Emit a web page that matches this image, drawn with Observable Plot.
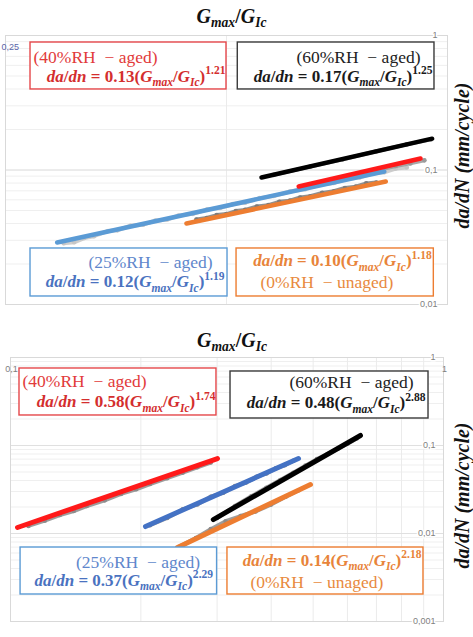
<!DOCTYPE html>
<html>
<head>
<meta charset="utf-8">
<script src="https://cdn.jsdelivr.net/npm/d3@7"></script>
<script src="https://cdn.jsdelivr.net/npm/@observablehq/plot@0.6"></script>
<style>
  html, body { margin: 0; padding: 0; background: #fff; }
  #root { width: 473px; }
  #root svg { display: block; }
  #root svg text { white-space: pre; }
</style>
</head>
<body>
<div id="root"></div>
<script>
// ---------------- data ----------------
const titleText = "G_{max}/G_{Ic}";
const yLabelText = "da/dN (mm/cycle)";
const seriesNames = ["40%RH - aged", "60%RH - aged", "25%RH - aged", "0%RH - unaged"];
const headings = ["(40%RH  \u2212 aged)", "(60%RH  \u2212 aged)", "(25%RH  \u2212 aged)", "(0%RH  \u2212 unaged)"];

// panel A (top)
const aXTicks = [0.25];
const aXTickLabels = ["0,25"];
const aYTicks = [1, 0.1, 0.01];
const aYTickLabels = ["1", "0,1", "0,01"];
const aFormulas = [
  "da/dn = 0.13(G_{max}/G_{Ic})^{1.21}",
  "da/dn = 0.17(G_{max}/G_{Ic})^{1.25}",
  "da/dn = 0.12(G_{max}/G_{Ic})^{1.19}",
  "da/dn = 0.10(G_{max}/G_{Ic})^{1.18}"
];
// fitted power-law lines: start / end points (Gmax/GIc, da/dN)
const aFitG0 = [0.627, 0.558, 0.294, 0.441];
const aFitG1 = [0.919, 0.953, 0.820, 0.824];
const aFitDa0 = [0.0754, 0.0879, 0.0289, 0.0400];
const aFitDa1 = [0.1218, 0.1710, 0.0975, 0.0821];
// measured data (grey)
const aData40G = [0.65, 0.70, 0.75, 0.80, 0.85, 0.89, 0.93];
const aData40Da = [0.0770, 0.0850, 0.0915, 0.0995, 0.1070, 0.1120, 0.1180];
const aData60G = [0.58, 0.65, 0.72, 0.80, 0.88, 0.95];
const aData60Da = [0.0920, 0.1060, 0.1200, 0.1380, 0.1550, 0.1690];
const aData25G = [0.300, 0.310, 0.320, 0.330, 0.345, 0.355, 0.370, 0.385, 0.400, 0.415, 0.430, 0.450, 0.470, 0.490, 0.510, 0.530, 0.555, 0.580, 0.610, 0.640, 0.670, 0.700, 0.730, 0.760, 0.790, 0.820, 0.850, 0.880];
const aData25Da = [0.0285, 0.0290, 0.0312, 0.0322, 0.0352, 0.0356, 0.0385, 0.0392, 0.0420, 0.0428, 0.0458, 0.0472, 0.0508, 0.0522, 0.0558, 0.0572, 0.0618, 0.0640, 0.0692, 0.0720, 0.0775, 0.0800, 0.0858, 0.0882, 0.0940, 0.0962, 0.1025, 0.1045];
const aData0G = [0.455, 0.470, 0.485, 0.500, 0.515, 0.530, 0.550, 0.570, 0.590, 0.610, 0.630, 0.650, 0.675, 0.700, 0.725, 0.750, 0.775, 0.800];
const aData0Da = [0.0428, 0.0440, 0.0462, 0.0470, 0.0495, 0.0505, 0.0535, 0.0548, 0.0580, 0.0592, 0.0625, 0.0638, 0.0676, 0.0695, 0.0735, 0.0752, 0.0795, 0.0808];

// panel B (bottom)
const bXTicks = [0.1, 1];
const bXTickLabels = ["0,1", "1"];
const bYTicks = [1, 0.1, 0.01, 0.001];
const bYTickLabels = ["1", "0,1", "0,01", "0,001"];
const bFormulas = [
  "da/dn = 0.58(G_{max}/G_{Ic})^{1.74}",
  "da/dn = 0.48(G_{max}/G_{Ic})^{2.88}",
  "da/dn = 0.37(G_{max}/G_{Ic})^{2.29}",
  "da/dn = 0.14(G_{max}/G_{Ic})^{2.18}"
];
const bFitG0 = [0.1038, 0.294, 0.205, 0.243];
const bFitG1 = [0.3006, 0.643, 0.4625, 0.493];
const bFitDa0 = [0.0117, 0.0144, 0.0120, 0.00693];
const bFitDa1 = [0.0711, 0.1300, 0.0711, 0.0360];
const bData40G = [0.11, 0.12, 0.13, 0.14, 0.15, 0.165, 0.18, 0.195, 0.21, 0.23, 0.25, 0.27, 0.29];
const bData40Da = [0.0122, 0.0140, 0.0162, 0.0180, 0.0205, 0.0238, 0.0282, 0.0318, 0.0365, 0.0425, 0.0492, 0.0565, 0.0640];
const bData60G = [0.30, 0.33, 0.36, 0.39, 0.42, 0.45, 0.48, 0.51, 0.54, 0.57, 0.60, 0.63];
const bData60Da = [0.0150, 0.0205, 0.0265, 0.0330, 0.0405, 0.0490, 0.0590, 0.0700, 0.0800, 0.0920, 0.1050, 0.1200];
const bData25G = [0.21, 0.23, 0.25, 0.27, 0.29, 0.31, 0.33, 0.35, 0.37, 0.39, 0.41, 0.43, 0.45];
const bData25Da = [0.0124, 0.0150, 0.0188, 0.0214, 0.0262, 0.0290, 0.0345, 0.0380, 0.0440, 0.0482, 0.0550, 0.0598, 0.0670];
const bData0G = [0.247, 0.268, 0.290, 0.314, 0.340, 0.368, 0.399, 0.432, 0.463];
const bData0Da = [0.0072, 0.0089, 0.0112, 0.0138, 0.0158, 0.0178, 0.0212, 0.0262, 0.0310];

// ---------------- layout / style ----------------
const SERIF = "'Liberation Serif', 'Times New Roman', serif";
const SANS = "'Liberation Sans', Arial, sans-serif";
const boxColors = ["#e5474a", "#3a3a3a", "#5b9bd5", "#ed7d31"];
const headColors = ["#e23b3b", "#222222", "#5f87cc", "#e88a40"];
const formulaColors = ["#d42e2e", "#1a1a1a", "#4a72c0", "#e8843a"];

// annotation box placement (data space) and text offsets (px)
const aBoxes = [
  {x1: 0.2704, x2: 0.500, yTop: 0.887, yBot: 0.397, head: ["start", 3, 20], form: ["end", -1, 39]},
  {x1: 0.518, x2: 0.960, yTop: 0.887, yBot: 0.397, head: ["end", -14, 20], form: ["end", -2, 39]},
  {x1: 0.2704, x2: 0.5016, yTop: 0.02609, yBot: 0.01147, head: ["end", -15, 20], form: ["end", -3, 39]},
  {x1: 0.516, x2: 0.958, yTop: 0.02609, yBot: 0.01147, head: ["start", 24, 40], form: ["end", -2, 18]}
];
const bBoxes = [
  {x1: 0.1049, x2: 0.2990, yTop: 0.750, yBot: 0.2193, head: ["start", 3, 19], form: ["end", -1, 39]},
  {x1: 0.3222, x2: 0.9234, yTop: 0.6934, yBot: 0.2027, head: ["end", -15, 17], form: ["end", -3, 37]},
  {x1: 0.1055, x2: 0.300, yTop: 0.00693, yBot: 0.002027, head: ["end", -17, 20], form: ["end", -4, 38]},
  {x1: 0.317, x2: 0.899, yTop: 0.00693, yBot: 0.002027, head: ["start", 23, 40], form: ["end", -2, 18]}
];

function panel(p) {
  const order = [2, 3, 0, 1];
  const marks = [];
  marks.push(Plot.gridY(d3.scaleLog().domain(p.yDomain).ticks(), {stroke: "#efefef", strokeOpacity: 1}));
  marks.push(Plot.gridX(p.xGrid, {stroke: "#ebebeb", strokeOpacity: 1}));
  marks.push(Plot.gridY(p.yTicks, {stroke: "#e0e0e0", strokeOpacity: 1}));
  marks.push(Plot.frame({stroke: "#d9d9d9"}));
  order.forEach(i => {
    const rows = p.dataG[i].map((g, j) => ({g, da: p.dataDa[i][j]}));
    marks.push(Plot.line(rows, {x: "g", y: "da", stroke: p.grayColors[i], strokeWidth: 4, strokeOpacity: 0.85}));
    marks.push(Plot.dot(rows, {x: "g", y: "da", r: 2.3, fill: p.grayColors[i]}));
  });
  order.forEach(i => {
    const rows = [{g: p.fitG0[i], da: p.fitDa0[i]}, {g: p.fitG1[i], da: p.fitDa1[i]}];
    marks.push(Plot.line(rows, {x: "g", y: "da", stroke: p.lineColors[i], strokeWidth: p.lineWidth, strokeLinecap: "round"}));
  });
  p.boxes.forEach((b, i) => {
    marks.push(Plot.rect([b], {x1: "x1", x2: "x2", y1: "yBot", y2: "yTop", fill: "white", stroke: boxColors[i], strokeWidth: 1.4}));
    const [ha, hdx, hdy] = b.head;
    marks.push(Plot.text([headings[i]], {
      x: () => (ha === "start" ? b.x1 : b.x2), y: () => b.yTop, text: d => d,
      textAnchor: ha, lineAnchor: "bottom", dx: hdx, dy: hdy,
      fontFamily: SERIF, fontSize: 17.5, fill: headColors[i]
    }));
    const [fa, fdx, fdy] = b.form;
    marks.push(Plot.text([p.formulas[i]], {
      x: () => (fa === "start" ? b.x1 : b.x2), y: () => b.yTop, text: d => d,
      textAnchor: fa, lineAnchor: "bottom", dx: fdx, dy: fdy,
      fontFamily: SERIF, fontSize: 17, fontWeight: "bold", fill: formulaColors[i]
    }));
  });
  marks.push(Plot.text(p.yTicks, {
    y: d => d, text: (d, i) => p.yTickLabels[i], frameAnchor: "right", textAnchor: "end",
    dx: p.yTickDx, fontSize: 9, fontFamily: SANS, fill: "#7f7f7f", stroke: "white", strokeWidth: 3, paintOrder: "stroke"
  }));
  marks.push(Plot.text(p.xTicks, {
    x: d => d, text: (d, i) => p.xTickLabels[i], frameAnchor: "top", lineAnchor: "middle",
    textAnchor: p.xTickAnchor, dx: p.xTickDx, dy: 12, fontSize: 9, fontFamily: SANS, fill: p.xTickColor
  }));
  marks.push(Plot.text([titleText], {
    frameAnchor: "top", lineAnchor: "bottom", textAnchor: "middle", dx: p.titleDx, dy: p.titleDy, text: d => d,
    fontFamily: SERIF, fontSize: 20, fontWeight: "bold", fill: "#111"
  }));
  marks.push(Plot.text([yLabelText], {
    frameAnchor: "right", textAnchor: "middle", lineAnchor: "middle", y: () => p.yLabelAt, rotate: -90, dx: p.yLabelDx, text: d => d,
    fontFamily: SERIF, fontSize: 20, fontWeight: "bold", fontStyle: "italic", fill: "#111"
  }));
  return Plot.plot({
    width: 473, height: p.height,
    marginTop: p.margin[0], marginRight: p.margin[1], marginBottom: p.margin[2], marginLeft: p.margin[3],
    x: {type: "log", domain: p.xDomain, axis: null},
    y: {type: "log", domain: p.yDomain, axis: null},
    style: {fontFamily: SANS, background: "white"},
    marks
  });
}

function richify(svg) {
  const NS = "http://www.w3.org/2000/svg";
  d3.select(svg).selectAll("text").each(function () {
    const el = this;
    const s = el.textContent;
    if (!/[_^]\{/.test(s)) return;
    const fs = parseFloat(getComputedStyle(el).fontSize) || 14;
    const tokens = [];
    const re = /([_^])\{([^}]*)\}/g;
    let last = 0, m;
    while ((m = re.exec(s))) {
      if (m.index > last) tokens.push({t: s.slice(last, m.index), mode: "n"});
      tokens.push({t: m[2], mode: m[1] === "_" ? "sub" : "sup"});
      last = re.lastIndex;
    }
    if (last < s.length) tokens.push({t: s.slice(last), mode: "n"});
    while (el.firstChild) el.removeChild(el.firstChild);
    let shift = 0;
    tokens.forEach(tok => {
      const target = tok.mode === "sub" ? 0.24 * fs : tok.mode === "sup" ? -0.42 * fs : 0;
      const size = tok.mode === "n" ? fs : 0.68 * fs;
      const runs = tok.t.match(/[A-Za-z]+|[^A-Za-z]+/g) || [];
      runs.forEach((run, k) => {
        const t = document.createElementNS(NS, "tspan");
        if (k === 0 && target !== shift) { t.setAttribute("dy", (target - shift).toFixed(2)); shift = target; }
        t.setAttribute("font-size", size);
        t.setAttribute("font-style", /[A-Za-z]/.test(run) ? "italic" : "normal");
        t.textContent = run;
        el.appendChild(t);
      });
    });
  });
}

const root = document.getElementById("root");
const chartTop = panel({
  height: 320, margin: [35, 26, 16, 5],
  xDomain: [0.25, 1], yDomain: [0.01, 1],
  xGrid: [0.5], yTicks: aYTicks, yTickLabels: aYTickLabels, yTickDx: -10,
  xTicks: aXTicks, xTickLabels: aXTickLabels, xTickColor: "#5a64a8", xTickAnchor: "start", xTickDx: -4,
  formulas: aFormulas, boxes: aBoxes,
  fitG0: aFitG0, fitG1: aFitG1, fitDa0: aFitDa0, fitDa1: aFitDa1,
  dataG: [aData40G, aData60G, aData25G, aData0G], dataDa: [aData40Da, aData60Da, aData25Da, aData0Da],
  grayColors: ["#9a9a9a", "#8a8a8a", "#c6c6c6", "#7c7c7c"],
  lineColors: ["#ff1a1a", "#000000", "#5b9bd5", "#ed7d31"], lineWidth: 4.5,
  titleDx: 5, titleDy: -13, yLabelDx: 15, yLabelAt: 0.128
});
const chartBottom = panel({
  height: 317, margin: [37, 30, 16, 10],
  xDomain: [0.1, 1], yDomain: [0.001, 1],
  xGrid: d3.scaleLog().domain([0.1, 1]).ticks(), yTicks: bYTicks, yTickLabels: bYTickLabels, yTickDx: -8,
  xTicks: bXTicks, xTickLabels: bXTickLabels, xTickColor: "#7f7f7f", xTickAnchor: "middle", xTickDx: 1,
  formulas: bFormulas, boxes: bBoxes,
  fitG0: bFitG0, fitG1: bFitG1, fitDa0: bFitDa0, fitDa1: bFitDa1,
  dataG: [bData40G, bData60G, bData25G, bData0G], dataDa: [bData40Da, bData60Da, bData25Da, bData0Da],
  grayColors: ["#8c8c8c", "#8c8c8c", "#8c8c8c", "#8c8c8c"],
  lineColors: ["#ff1a1a", "#000000", "#4472c4", "#ed7d31"], lineWidth: 5,
  titleDx: 5, titleDy: -11, yLabelDx: 19, yLabelAt: 0.027
});
root.appendChild(chartTop);
root.appendChild(chartBottom);
richify(chartTop);
richify(chartBottom);
</script>
</body>
</html>
